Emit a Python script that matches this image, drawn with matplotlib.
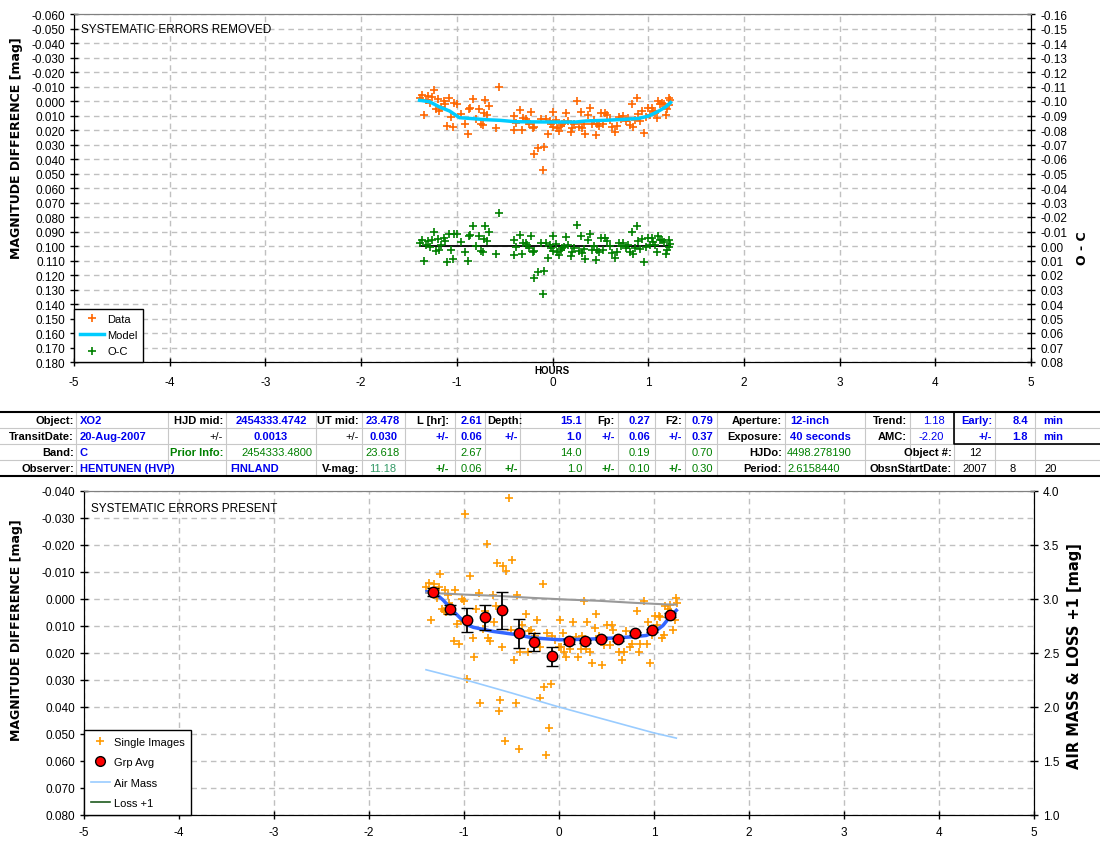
import matplotlib
matplotlib.use('Agg')
import matplotlib.pyplot as plt
from matplotlib.lines import Line2D
from matplotlib.ticker import MultipleLocator, FuncFormatter

plt.rcParams['font.family'] = ['Liberation Sans', 'DejaVu Sans']
plt.rcParams['axes.unicode_minus'] = False

# ---------------- TOP PANEL DATA (systematic errors removed) ----------------
top_t = [-1.382,-1.361,-1.344,-1.302,-1.326,-1.285,-1.260,-1.240,-1.222,-1.198,-1.188,-1.163,-1.135,-1.122,-1.104,-1.083,-1.059,-1.042,-1.031,-1.000,
         -0.955,-0.910,-0.885,-0.868,-0.858,-0.833,-0.799,-0.771,-0.747,-0.729,-0.701,-0.712,-0.684,-0.667,-0.590,-0.556,-0.399,-0.399,-0.382,-0.340,
         -0.319,-0.313,-0.278,-0.267,-0.250,-0.229,-0.208,-0.191,-0.198,-0.156,-0.122,-0.094,-0.104,-0.069,-0.052,-0.028,-0.017,0.007,0.010,0.035,
         0.052,0.069,0.087,0.104,0.122,0.146,0.167,0.191,0.208,0.226,0.260,0.278,0.295,0.306,0.330,0.340,0.375,0.389,0.410,0.434,
         0.451,0.469,0.486,0.503,0.528,0.549,0.573,0.597,0.625,0.653,0.677,0.694,0.712,0.736,0.764,0.792,0.806,0.826,0.844,0.861,
         0.885,0.896,0.910,0.931,0.955,0.972,1.000,1.014,1.035,1.049,1.066,1.087,1.104,1.128,1.146,1.163,1.181,1.198,1.215,1.233,1.222]
top_mag = [-0.0023,-0.0041,0.0099,-0.0034,-0.0005,0.0011,-0.0028,-0.0076,0.0057,-0.0011,0.0069,0.0041,0.0000,0.0023,0.0172,-0.0018,0.0110,0.0179,0.0014,0.0023,
           0.0087,0.0161,0.0225,0.0053,0.0046,-0.0014,0.0126,0.0057,0.0161,0.0168,-0.0007,0.0080,0.0097,0.0034,0.0189,-0.0097,0.0202,0.0103,0.0149,0.0064,
           0.0200,0.0120,0.0126,0.0138,0.0161,0.0076,0.0184,0.0179,0.0368,0.0322,0.0126,0.0317,0.0476,0.0126,0.0230,0.0138,0.0161,0.0076,0.0179,0.0133,
           0.0189,0.0207,0.0172,0.0161,0.0149,0.0080,0.0138,0.0211,0.0184,0.0161,0.0000,0.0179,0.0074,0.0189,0.0161,0.0230,0.0097,0.0051,0.0161,0.0133,
           0.0234,0.0161,0.0172,0.0080,0.0161,0.0080,0.0097,0.0133,0.0179,0.0211,0.0172,0.0110,0.0126,0.0103,0.0138,0.0115,0.0166,0.0023,0.0179,0.0133,
           -0.0018,0.0087,0.0138,0.0069,0.0218,0.0110,0.0046,0.0097,0.0046,0.0069,0.0080,0.0120,0.0000,0.0023,0.0011,0.0018,0.0097,0.0057,-0.0023,-0.0005,0.0028]
top_oc = [-0.0018,-0.0038,0.0101,-0.0037,-0.0005,0.0006,-0.0040,-0.0095,0.0032,-0.0046,0.0030,-0.0005,-0.0053,-0.0034,0.0109,-0.0086,0.0030,0.0089,-0.0081,-0.0082,
          -0.0029,0.0043,0.0106,-0.0067,-0.0075,-0.0136,0.0002,-0.0068,0.0035,0.0041,-0.0136,-0.0048,-0.0032,-0.0096,0.0057,-0.0230,0.0060,-0.0039,0.0006,-0.0079,
          0.0056,-0.0024,-0.0018,-0.0006,0.0017,-0.0068,0.0040,0.0035,0.0224,0.0177,-0.0019,0.0172,0.0331,-0.0019,0.0085,-0.0007,0.0016,-0.0069,0.0034,-0.0012,
          0.0044,0.0062,0.0027,0.0016,0.0004,-0.0065,-0.0007,0.0066,0.0039,0.0016,-0.0144,0.0036,-0.0068,0.0048,0.0022,0.0092,-0.0040,-0.0086,0.0025,-0.0003,
          0.0099,0.0026,0.0038,-0.0054,0.0027,-0.0053,-0.0036,0.0001,0.0048,0.0081,0.0043,-0.0019,-0.0002,-0.0024,0.0012,-0.0010,0.0042,-0.0100,0.0057,0.0012,
          -0.0139,-0.0033,0.0020,-0.0046,0.0108,0.0004,-0.0057,-0.0005,-0.0052,-0.0025,-0.0009,0.0038,-0.0071,-0.0040,-0.0044,-0.0029,0.0056,0.0029,-0.0044,-0.0016,0.0010]
model_t = [-1.389,-1.285,-1.181,-1.076,-0.972,-0.868,-0.694,-0.556,-0.382,0.0,0.243,0.347,0.556,0.764,0.903,1.007,1.111,1.181,1.233]
model_mag = [-0.0005,0.0005,0.0041,0.0069,0.0115,0.0120,0.0129,0.0133,0.0143,0.0145,0.0145,0.0138,0.0133,0.0126,0.0120,0.0103,0.0069,0.0041,0.0011]
oc_zero_t = [-1.382, 1.233]
oc_zero_v = [0.0, 0.0]

# ---------------- BOTTOM PANEL DATA (systematic errors present) ----------------
si_t = [-0.526,-0.989,-0.758,-0.653,-0.589,-0.561,-0.495,-1.253,-0.937,-0.168,-1.396,-1.368,-1.316,-1.263,-1.196,-1.095,-0.842,-0.691,-0.442,0.263,
        0.895,1.232,1.242,1.119,1.165,0.821,0.389,-0.347,-1.168,-1.018,-1.000,-1.281,-1.232,-1.211,1.007,1.053,-0.870,-0.779,
        -1.186,-1.158,-1.347,-1.105,-1.053,-1.070,-1.028,-0.895,-0.905,-0.800,-0.747,-0.730,-0.684,-0.660,-0.600,-0.502,-0.474,-0.414,-0.386,-0.319,
        -0.291,-0.256,-0.326,-0.232,-0.204,-0.123,-0.070,-0.039,0.007,0.042,0.000,0.025,0.049,0.077,0.112,0.147,0.182,0.200,0.235,0.246,
        0.295,0.288,0.323,0.344,0.375,0.421,0.453,0.470,0.505,0.533,0.558,0.568,0.632,0.663,0.681,0.709,0.744,0.768,0.842,0.849,
        0.926,0.937,0.961,0.979,1.035,1.060,1.084,1.105,1.147,1.200,1.218,-0.965,-0.835,-0.625,-0.632,-0.449,-0.204,-0.158,-0.081,-0.105,
        -0.568,-0.421,-0.140]
si_mag = [-0.0374,-0.0315,-0.0205,-0.0135,-0.0123,-0.0105,-0.0144,-0.0093,-0.0085,-0.0056,-0.0043,-0.0060,-0.0056,-0.0043,-0.0033,-0.0033,-0.0022,-0.0015,-0.0015,0.0007,
          0.0007,-0.0005,0.0015,0.0026,0.0021,0.0044,0.0056,0.0056,-0.0014,-0.0001,0.0006,-0.0005,0.0036,0.0043,0.0064,0.0064,0.0038,0.0046,
          0.0048,0.0014,0.0078,0.0156,0.0165,0.0094,0.0083,0.0215,0.0144,0.0110,0.0144,0.0156,0.0085,0.0026,0.0178,0.0116,0.0227,0.0196,0.0095,0.0119,
          0.0114,0.0137,0.0196,0.0079,0.0179,0.0126,0.0137,0.0153,0.0079,0.0126,0.0178,0.0178,0.0196,0.0215,0.0184,0.0085,0.0141,0.0215,0.0184,0.0137,
          0.0085,0.0184,0.0196,0.0236,0.0107,0.0137,0.0243,0.0172,0.0095,0.0172,0.0098,0.0116,0.0196,0.0226,0.0196,0.0120,0.0178,0.0165,0.0196,0.0165,
          0.0165,0.0085,0.0236,0.0135,0.0095,0.0067,0.0144,0.0135,0.0036,0.0114,0.0079,0.0295,0.0384,0.0375,0.0414,0.0384,0.0365,0.0326,0.0315,0.0477,
          0.0526,0.0556,0.0577]
grp_t = [-1.323,-1.144,-0.965,-0.782,-0.604,-0.425,-0.260,-0.077,0.102,0.270,0.446,0.625,0.804,0.982,1.165]
grp_mag = [-0.0027,0.0038,0.0079,0.0068,0.0042,0.0127,0.0159,0.0212,0.0157,0.0157,0.0147,0.0149,0.0127,0.0116,0.0060]
grp_err = [0.0015,0.0017,0.0044,0.0046,0.0068,0.0054,0.0033,0.0035,0.0008,0.0006,0.0006,0.0006,0.0006,0.0006,0.0008]
bmodel_t = [-1.39,-1.32,-1.22,-1.098,-0.97,-0.90,-0.695,-0.449,-0.274,0.007,0.288,0.604,0.779,0.919,1.007,1.095,1.165,1.235]
bmodel_mag = [-0.0027,-0.0027,0.0004,0.0050,0.0095,0.0105,0.0120,0.0132,0.0144,0.0151,0.0149,0.0144,0.0140,0.0135,0.0122,0.0098,0.0067,0.0042]
loss_t = [-1.396,-1.151,-0.975,-0.625,-0.274,0.077,0.428,0.779,1.130,1.235]
loss_v = [3.058,3.048,3.040,3.028,3.010,2.995,2.983,2.965,2.950,2.948]
airmass_t = [-1.40,-1.0,-0.5,0.0,0.5,1.0,1.235]
airmass_v = [2.345,2.255,2.13,2.00,1.88,1.76,1.712]

W, H = 1100, 845
fig = plt.figure(figsize=(11, 8.45), dpi=100)
fig.patch.set_facecolor('white')


def px_rect(x0, y0, x1, y1):
    return [x0 / W, 1 - y1 / H, (x1 - x0) / W, (y1 - y0) / H]


GRID = dict(color='#c0c0c0', linestyle=(0, (4, 3)), linewidth=1.0)
TICKFS = 8.5
LABELFONT = ['DejaVu Sans']


def style_axes(ax, axr):
    ax.grid(True, **GRID)
    ax.set_axisbelow(True)
    for s in ('left', 'bottom'):
        ax.spines[s].set_color('black')
    ax.spines['top'].set_color('#808080')
    ax.spines['right'].set_color('black')
    axr.spines['right'].set_color('black')
    axr.spines['top'].set_color('#808080')
    ax.tick_params(axis='both', direction='inout', length=6, width=1, labelsize=TICKFS, colors='black')
    axr.tick_params(axis='y', direction='inout', length=6, width=1, labelsize=TICKFS)


def fmt(n):
    return FuncFormatter(lambda v, p: f"{round(v, n) + 0.0:.{n}f}")


# ---------------- TOP AXES ----------------
ax1 = fig.add_axes(px_rect(74, 15, 1031, 363))
ax1.set_xlim(-5, 5)
ax1.set_ylim(0.18, -0.06)
ax1.xaxis.set_major_locator(MultipleLocator(1))
ax1.yaxis.set_major_locator(MultipleLocator(0.01))
ax1.yaxis.set_major_formatter(fmt(3))
ax1r = ax1.twinx()
ax1r.set_ylim(0.08, -0.16)
ax1r.yaxis.set_major_locator(MultipleLocator(0.01))
ax1r.yaxis.set_major_formatter(fmt(2))
style_axes(ax1, ax1r)
ax1.tick_params(axis='x', pad=7)

ax1.plot(top_t, top_mag, ls='none', marker='+', color='#ff6600', ms=6, mew=1.2, zorder=3)
ax1.plot(model_t, model_mag, color='#00ccff', lw=2.5, zorder=4)
ax1r.plot(oc_zero_t, oc_zero_v, color='black', lw=1.3, zorder=3)
ax1r.plot(top_t, top_oc, ls='none', marker='+', color='#008000', ms=6, mew=1.2, zorder=4)

ax1.text(0.0073, 0.975, 'SYSTEMATIC ERRORS REMOVED', transform=ax1.transAxes,
         fontsize=8.5, va='top', ha='left')
fig.text(552 / W, 1 - 371 / H, 'HOURS', fontsize=7, fontweight='bold', ha='center', va='center')
fig.text(17 / W, 1 - 148 / H, 'MAGNITUDE DIFFERENCE [mag]', rotation=90, fontsize=9,
         fontweight='bold', ha='center', va='center', family=LABELFONT)
fig.text(1083 / W, 1 - 248 / H, 'O - C', rotation=90, fontsize=9,
         fontweight='bold', ha='center', va='center', family=LABELFONT)

h_top = [Line2D([], [], ls='none', marker='+', color='#ff6600', ms=6, mew=1.2),
         Line2D([], [], color='#00ccff', lw=2.5),
         Line2D([], [], ls='none', marker='+', color='#008000', ms=6, mew=1.2)]
leg1 = ax1r.legend(h_top, ['Data', 'Model', 'O-C'], loc='lower left', bbox_to_anchor=(0, 0),
                   borderaxespad=0, fancybox=False, edgecolor='black', framealpha=1,
                   fontsize=8, handlelength=2.2, labelspacing=0.55, borderpad=0.5, handletextpad=0.3)
leg1.get_frame().set_linewidth(1.0)

# ---------------- BOTTOM AXES ----------------
ax2 = fig.add_axes(px_rect(84, 492, 1034, 816))
ax2.set_xlim(-5, 5)
ax2.set_ylim(0.08, -0.04)
ax2.xaxis.set_major_locator(MultipleLocator(1))
ax2.yaxis.set_major_locator(MultipleLocator(0.01))
ax2.yaxis.set_major_formatter(fmt(3))
ax2r = ax2.twinx()
ax2r.set_ylim(1.0, 4.0)
ax2r.yaxis.set_major_locator(MultipleLocator(0.5))
ax2r.yaxis.set_major_formatter(fmt(1))
style_axes(ax2, ax2r)
ax2.tick_params(axis='x', pad=5)

ax2.plot(si_t, si_mag, ls='none', marker='+', color='#ff9900', ms=6, mew=1.2, zorder=3)
ax2r.plot(airmass_t, airmass_v, color='#99ccff', lw=1.2, zorder=2)
ax2r.plot(loss_t, loss_v, color='#999999', lw=1.5, zorder=2)
ax2.plot(bmodel_t, bmodel_mag, color='#3366ff', lw=2.5, zorder=4)
ax2r.errorbar(grp_t, [3.0 - 25 * m for m in grp_mag], yerr=[25 * e for e in grp_err], fmt='o',
              color='#ff0000', mec='black', mew=1.0, ms=7.5, ecolor='black', elinewidth=1.3,
              capsize=4, capthick=1.3, zorder=5)

ax2.text(0.0073, 0.965, 'SYSTEMATIC ERRORS PRESENT', transform=ax2.transAxes,
         fontsize=8.5, va='top', ha='left')
fig.text(17 / W, 1 - 630 / H, 'MAGNITUDE DIFFERENCE [mag]', rotation=90, fontsize=9,
         fontweight='bold', ha='center', va='center', family=LABELFONT)
fig.text(1074 / W, 1 - 656 / H, 'AIR MASS & LOSS +1 [mag]', rotation=90, fontsize=10.5,
         fontweight='bold', ha='center', va='center', family=LABELFONT)

h_bot = [Line2D([], [], ls='none', marker='+', color='#ff9900', ms=6, mew=1.2),
         Line2D([], [], ls='none', marker='o', color='#ff0000', mec='black', ms=7),
         Line2D([], [], color='#99ccff', lw=1.2),
         Line2D([], [], color='#1e5a1e', lw=1.2)]
leg2 = ax2r.legend(h_bot, ['Single Images', 'Grp Avg', 'Air Mass', 'Loss +1'], loc='lower left',
                   bbox_to_anchor=(0, 0), borderaxespad=0, fancybox=False, edgecolor='black',
                   framealpha=1, fontsize=8, handlelength=1.7, labelspacing=0.95, borderpad=0.6,
                   handletextpad=0.4)
leg2.get_frame().set_linewidth(1.0)

# ---------------- PARAMETER TABLE ----------------
tab = fig.add_axes([0, 0, 1, 1])
tab.set_xlim(0, W)
tab.set_ylim(H, 0)
tab.axis('off')

BLUE = '#0000ee'
GREEN = '#008000'
BLK = 'black'
row_y = [421, 437, 453, 469]
cells = [
    # row, x, align, text, color, bold
    (0, 74, 'right', 'Object:', BLK, True), (0, 80, 'left', 'XO2', BLUE, True),
    (0, 223, 'right', 'HJD mid:', BLK, True), (0, 271, 'center', '2454333.4742', BLUE, True),
    (0, 359, 'right', 'UT mid:', BLK, True), (0, 383, 'center', '23.478', BLUE, True),
    (0, 449, 'right', 'L [hr]:', BLK, True), (0, 482, 'right', '2.61', BLUE, True),
    (0, 487, 'left', 'Depth:', BLK, True), (0, 582, 'right', '15.1', BLUE, True),
    (0, 615, 'right', 'Fp:', BLK, True), (0, 650, 'right', '0.27', BLUE, True),
    (0, 682, 'right', 'F2:', BLK, True), (0, 713, 'right', '0.79', BLUE, True),
    (0, 782, 'right', 'Aperture:', BLK, True), (0, 790, 'left', '12-inch', BLUE, True),
    (0, 907, 'right', 'Trend:', BLK, True), (0, 934, 'center', '1.18', BLUE, False),
    (0, 992, 'right', 'Early:', BLUE, True), (0, 1028, 'right', '8.4', BLUE, True),
    (0, 1053, 'center', 'min', BLUE, True),
    (1, 74, 'right', 'TransitDate:', BLK, True), (1, 80, 'left', '20-Aug-2007', BLUE, True),
    (1, 223, 'right', '+/-', BLK, False), (1, 271, 'center', '0.0013', BLUE, True),
    (1, 359, 'right', '+/-', BLK, False), (1, 383, 'center', '0.030', BLUE, True),
    (1, 449, 'right', '+/-', BLUE, True), (1, 482, 'right', '0.06', BLUE, True),
    (1, 518, 'right', '+/-', BLUE, True), (1, 582, 'right', '1.0', BLUE, True),
    (1, 615, 'right', '+/-', BLUE, True), (1, 650, 'right', '0.06', BLUE, True),
    (1, 682, 'right', '+/-', BLUE, True), (1, 713, 'right', '0.37', BLUE, True),
    (1, 782, 'right', 'Exposure:', BLK, True), (1, 790, 'left', '40 seconds', BLUE, True),
    (1, 907, 'right', 'AMC:', BLK, True), (1, 931, 'center', '-2.20', BLUE, False),
    (1, 992, 'right', '+/-', BLUE, True), (1, 1028, 'right', '1.8', BLUE, True),
    (1, 1053, 'center', 'min', BLUE, True),
    (2, 74, 'right', 'Band:', BLK, True), (2, 80, 'left', 'C', BLUE, True),
    (2, 223, 'right', 'Prior Info:', GREEN, True), (2, 312, 'right', '2454333.4800', GREEN, False),
    (2, 383, 'center', '23.618', GREEN, False), (2, 482, 'right', '2.67', GREEN, False),
    (2, 582, 'right', '14.0', GREEN, False), (2, 650, 'right', '0.19', GREEN, False),
    (2, 713, 'right', '0.70', GREEN, False), (2, 782, 'right', 'HJDo:', BLK, True),
    (2, 787, 'left', '4498.278190', GREEN, False), (2, 952, 'right', 'Object #:', BLK, True),
    (2, 975, 'center', '12', BLK, False),
    (3, 74, 'right', 'Observer:', BLK, True), (3, 80, 'left', 'HENTUNEN (HVP)', BLUE, True),
    (3, 230, 'left', 'FINLAND', BLUE, True), (3, 359, 'right', 'V-mag:', BLK, True),
    (3, 383, 'center', '11.18', '#339966', False), (3, 449, 'right', '+/-', GREEN, True),
    (3, 482, 'right', '0.06', GREEN, False), (3, 518, 'right', '+/-', GREEN, True),
    (3, 582, 'right', '1.0', GREEN, False), (3, 615, 'right', '+/-', GREEN, True),
    (3, 650, 'right', '0.10', GREEN, False), (3, 682, 'right', '+/-', GREEN, True),
    (3, 713, 'right', '0.30', GREEN, False), (3, 782, 'right', 'Period:', BLK, True),
    (3, 787, 'left', '2.6158440', GREEN, False), (3, 952, 'right', 'ObsnStartDate:', BLK, True),
    (3, 975, 'center', '2007', BLK, False), (3, 1013, 'center', '8', BLK, False),
    (3, 1051, 'center', '20', BLK, False),
]
for r, x, ha, s, c, b in cells:
    tab.text(x, row_y[r], s, ha=ha, va='center', color=c, fontsize=8,
             fontweight='bold' if b else 'normal')

# grid lines of the table
for y in (429, 445, 461):
    tab.plot([0, W], [y, y], color='#c8c8c8', lw=0.8)
vsep = [76, 168, 226, 316, 362, 405, 455, 485, 520, 585, 618, 655, 685, 717, 785, 865, 910, 954, 995, 1035]
for x in vsep:
    tab.plot([x, x], [413, 477], color='#c8c8c8', lw=0.8)
tab.plot([0, W], [413, 413], color='black', lw=1.5)
tab.plot([0, W], [477, 477], color='black', lw=1.5)
tab.plot([954, 954, W], [413, 445, 445], color='black', lw=1.2)

fig.savefig('out.png', dpi=100, facecolor='white')
